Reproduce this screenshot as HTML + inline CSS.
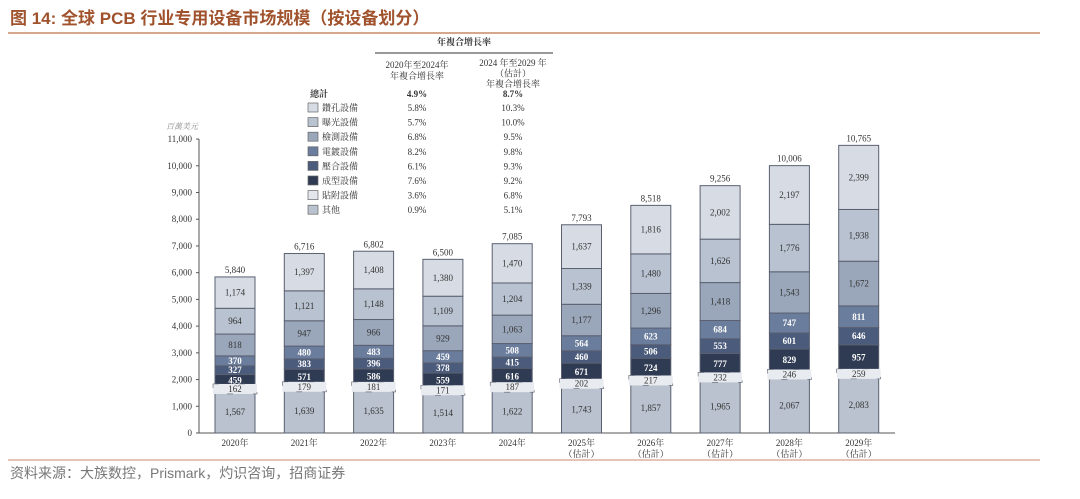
<!DOCTYPE html>
<html><head><meta charset="utf-8"><style>
body{margin:0;background:#fff;width:1080px;height:494px;overflow:hidden;font-family:"Liberation Serif","Noto Serif CJK SC",serif;}
</style></head><body>
<svg width="1080" height="494" xmlns="http://www.w3.org/2000/svg">
<text x="10" y="24" font-size="17" font-weight="bold" fill="#a0522d" font-family="Liberation Sans,Noto Sans CJK SC,sans-serif">图 14:  全球 PCB 行业专用设备市场规模（按设备划分）</text>
<line x1="8" y1="33" x2="1040" y2="33" stroke="#c98a6a" stroke-width="1.5"/>
<line x1="8" y1="460" x2="1040" y2="460" stroke="#c98a6a" stroke-width="1"/>
<text x="10" y="478" font-size="14" fill="#777" font-family="Liberation Sans,Noto Sans CJK SC,sans-serif">资料来源：大族数控，Prismark，灼识咨询，招商证券</text>
<g id="tbl" font-size="9" fill="#333" text-anchor="middle"></g>
<g id="plot" font-size="9"></g>
</svg>
<script>
const years=["2020年","2021年","2022年","2023年","2024年","2025年","2026年","2027年","2028年","2029年"];
const est=[false,false,false,false,false,true,true,true,true,true];
const totals=[5840,6716,6802,6500,7085,7793,8518,9256,10006,10765];
const seriesNames=["其他","貼附設備","成型設備","壓合設備","電鍍設備","檢測設備","曝光設備","鑽孔設備"];
const other=[1567,1639,1635,1514,1622,1743,1857,1965,2067,2083];
const attach=[162,179,181,171,187,202,217,232,246,259];
const forming=[459,571,586,559,616,671,724,777,829,957];
const lamination=[327,383,396,378,415,460,506,553,601,646];
const plating=[370,480,483,459,508,564,623,684,747,811];
const inspection=[818,947,966,929,1063,1177,1296,1418,1543,1672];
const exposure=[964,1121,1148,1109,1204,1339,1480,1626,1776,1938];
const drilling=[1174,1397,1408,1380,1470,1637,1816,2002,2197,2399];
const yTicks=[0,1000,2000,3000,4000,5000,6000,7000,8000,9000,10000,11000];
const legendNames=["鑽孔設備","曝光設備","檢測設備","電鍍設備","壓合設備","成型設備","貼附設備","其他"];
const cagr1=["5.8%","5.7%","6.8%","8.2%","6.1%","7.6%","3.6%","0.9%"];
const cagr2=["10.3%","10.0%","9.5%","9.8%","9.3%","9.2%","6.8%","5.1%"];
const totalCagr=["4.9%","8.7%"];
const series=[other,attach,forming,lamination,plating,inspection,exposure,drilling];
const colors=["#b9c2ce","#e3e6eb","#2f3b53","#4b5b7b","#6b7d9c","#9aa7bb","#b8c2d0","#d7dce4"];
const txtCol=["#333","#333","#fff","#fff","#fff","#333","#333","#333"];
const legColors=["#d7dce4","#b8c2d0","#9aa7bb","#6b7d9c","#4b5b7b","#2f3b53","#e3e6eb","#b9c2ce"];
const NS="http://www.w3.org/2000/svg";
const y0=433,pxPer=26.72/1000;
const Y=v=>y0-v*pxPer;
const X=i=>235+i*69.3;
const bw=40;
function mk(tag,at,parent,txt){const e=document.createElementNS(NS,tag);for(const k in at)e.setAttribute(k,at[k]);if(txt!==undefined)e.textContent=txt;parent.appendChild(e);return e;}
const plot=document.getElementById('plot');
let ax=mk('line',{x1:199,y1:Y(11000),x2:199,y2:y0,stroke:'#555'},plot);


let bx=mk('line',{x1:199,y1:y0,x2:895,y2:y0,stroke:'#555'},plot);


let un=mk('text',{x:166,y:129,'font-style':'italic',fill:'#888','font-size':8},plot,'百萬美元');


yTicks.forEach(t=>{
 let tl=mk('text',{x:192,y:Y(t)+3,'text-anchor':'end',fill:'#333'},plot,t.toLocaleString('en-US'));
 
 
 mk('line',{x1:196,y1:Y(t),x2:199,y2:Y(t),stroke:'#555'},plot);
});
years.forEach((yr,i)=>{
 let cum=0;const cx=X(i);
 series.forEach((s,k)=>{
  const v=s[i];const top=Y(cum+v),bot=Y(cum);
  let r=mk('rect',{x:cx-bw/2,y:top,width:bw,height:bot-top,fill:colors[k],stroke:'#5a6070','stroke-width':1},plot);
  
  
  cum+=v;
 });
 cum=0;
 series.forEach((s,k)=>{
  const v=s[i];const top=Y(cum+v),bot=Y(cum);const my=(top+bot)/2;
  if(k===1){
   let bg=mk('rect',{x:cx-bw/2-2,y:my-5,width:bw+4,height:10,fill:'#e8ebef',stroke:'#5a6070','stroke-width':0.6,'stroke-dasharray':'6 20'},plot);
   
   
  }
  let tx=mk('text',{x:cx,y:my+3,'text-anchor':'middle',fill:txtCol[k],'font-weight':k>=2&&k<=4?'bold':'normal'},plot,v.toLocaleString('en-US'));
  
  
  cum+=v;
 });
 let tt=mk('text',{x:cx,y:Y(totals[i])-4,'text-anchor':'middle',fill:'#333'},plot,totals[i].toLocaleString('en-US'));
 
 
 let xl=mk('text',{x:cx,y:446,'text-anchor':'middle',fill:'#333'},plot,yr);
 
 
 if(est[i]){let e=mk('text',{x:cx,y:457,'text-anchor':'middle',fill:'#333'},plot,'（估計）');
 
 }
});
const tb=document.getElementById('tbl');
let h=mk('text',{x:464,y:45,'font-weight':'bold'},tb,'年複合增長率');


mk('line',{x1:375,y1:53,x2:553,y2:53,stroke:'#333'},tb);
[["2020年至2024年","年複合增長率"],["2024 年至2029 年","（估計）","年複合增長率"]].forEach((ls,c)=>{
 ls.forEach((l,j)=>{let t=mk('text',{x:c?513:417,y:(c?66:68)+j*(c?10.5:11)},tb,l);
 
 });
});
let tot=mk('text',{x:310,y:97,'text-anchor':'start','font-weight':'bold'},tb,'總計');


totalCagr.forEach((v,c)=>{let t=mk('text',{x:c?513:417,y:97,'font-weight':'bold'},tb,v);
 
 });
legendNames.forEach((n,j)=>{
 const yy=111+j*14.6;
 let sw=mk('rect',{x:308,y:yy-8,width:10,height:9,fill:legColors[j],stroke:'#666','stroke-width':0.7},tb);
 
 
 let lt=mk('text',{x:322,y:yy,'text-anchor':'start'},tb,n);
 
 
 let a=mk('text',{x:417,y:yy},tb,cagr1[j]);
 
 
 let b=mk('text',{x:513,y:yy},tb,cagr2[j]);
 
 
});
</script>
</body></html>
